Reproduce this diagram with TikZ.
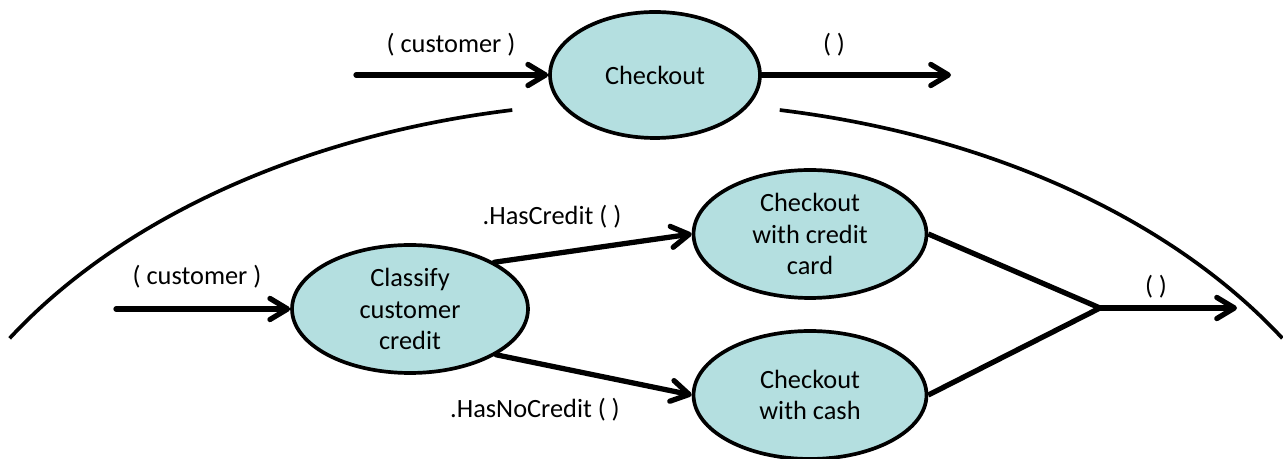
\documentclass[tikz,border=0pt]{standalone}
\usepackage{fontspec}
\setmainfont{Carlito}
\usetikzlibrary{arrows.meta,shapes.geometric}
\definecolor{ProcFill}{RGB}{180,223,224}

\begin{document}
\begin{tikzpicture}[x=0.02cm, y=0.02cm,
	every node/.style={font=\fontsize{15}{18}\selectfont},
	proc/.style={ellipse, draw, line width=2.1pt, fill=ProcFill, inner sep=0pt, align=center},
	flow/.style={line width=3pt, line cap=round, -{Straight Barb[length=10pt,width=12pt,round]}},
	merge/.style={line width=3pt, line join=miter},
	scope line/.style={line width=2.1pt}]
	\useasboundingbox (0,0) rectangle (1283,459);
	% upper level
	\node[proc, minimum width=4.2cm, minimum height=2.52cm] (checkout) at (655,384) {Checkout};
	\coordinate (inA) at (356,384);
	\coordinate (outA) at (951,384);
	\draw[flow] (inA) -- (checkout);
	\draw[flow] (checkout) -- (outA);
	\node (custA) at (451,414) {( customer )};
	\node (voidA) at (834,414) {( )};
	% expansion bracket
	\draw[scope line] (646,-141) ++(100.3:748 and 498) arc[start angle=100.3, end angle=148.3, x radius=748, y radius=498];
	\draw[scope line] (646,-141) ++(79.7:748 and 498) arc[start angle=79.7, end angle=31.7, x radius=748, y radius=498];
	% lower level
	\node[proc, minimum width=4.72cm, minimum height=2.56cm] (classify) at (410,150) {Classify\\customer\\credit};
	\node[proc, minimum width=4.66cm, minimum height=2.56cm] (card) at (810,225) {Checkout\\with credit\\card};
	\node[proc, minimum width=4.66cm, minimum height=2.56cm] (cash) at (810,64) {Checkout\\with cash};
	\coordinate (inB) at (116,150);
	\coordinate (join) at (1100,151);
	\coordinate (outB) at (1237,151);
	\draw[flow] (inB) -- (classify);
	\draw[flow] (classify.29) -- (card.west);
	\draw[flow] (classify.-28) -- (cash.west);
	\draw[merge] (card.east) -- (join) -- (cash.east);
	\draw[flow] (join) -- (outB);
	\node (custB) at (197,182) {( customer )};
	\node (hasCr) at (552,242) {.HasCredit ( )};
	\node (hasNoCr) at (535,49) {.HasNoCredit ( )};
	\node (voidB) at (1156,172) {( )};
\end{tikzpicture}
\end{document}
